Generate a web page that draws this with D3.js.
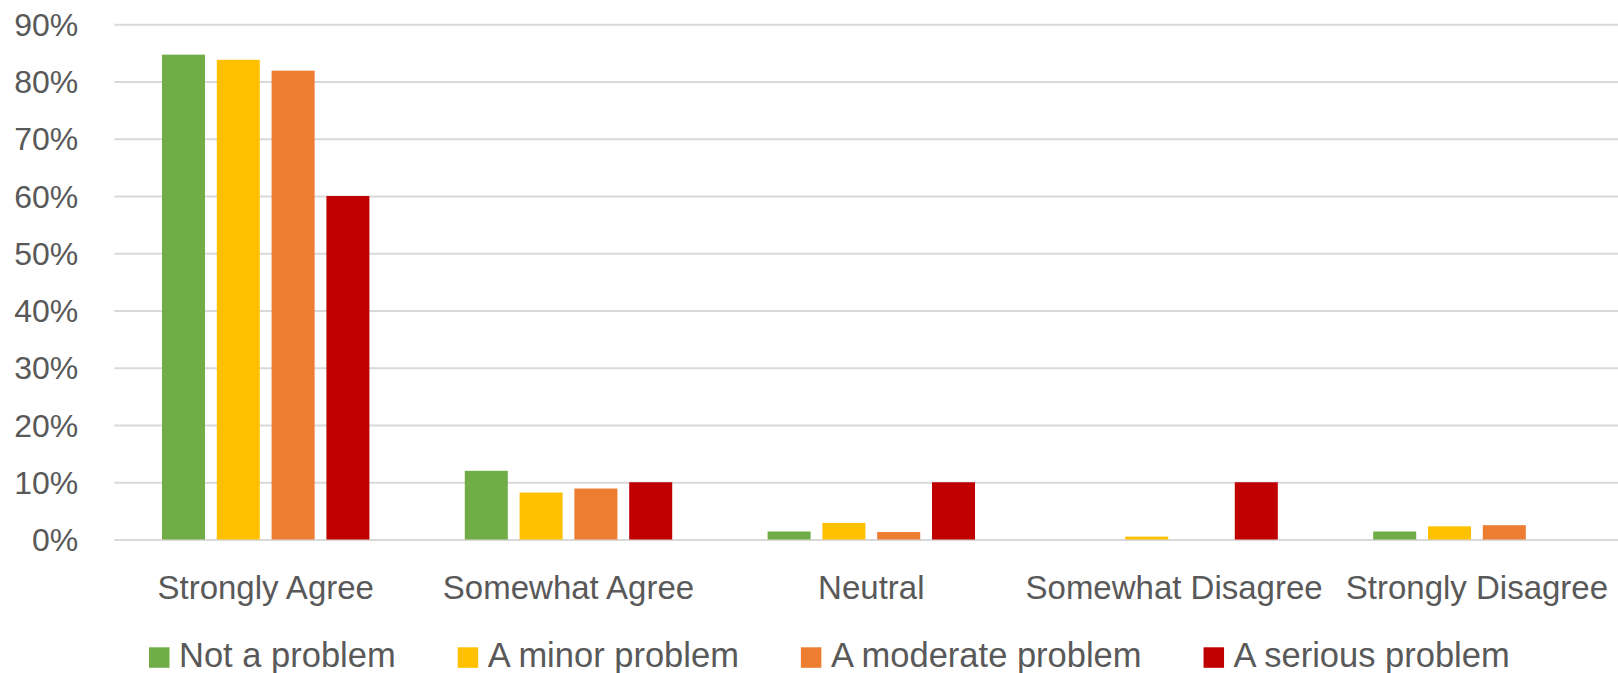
<!DOCTYPE html>
<html>
<head>
<meta charset="utf-8">
<script src="https://cdn.jsdelivr.net/npm/d3@7"></script>
<style>
html,body{margin:0;padding:0;background:#fff;overflow:hidden;}
svg{display:block;}
text{font-family:"Liberation Sans",Arial,sans-serif;fill:#595959;}
</style>
</head>
<body>
<svg id="chart" width="1618" height="673"></svg>
<script>
const categories = ["Strongly Agree","Somewhat Agree","Neutral","Somewhat Disagree","Strongly Disagree"];
const seriesNames = ["Not a problem","A minor problem","A moderate problem","A serious problem"];
const seriesColors = ["#70AD47","#FFC000","#ED7D31","#C00000"];
const notAProblem   = [0.847, 0.120, 0.014, 0.000, 0.014];
const minorProblem  = [0.838, 0.082, 0.029, 0.005, 0.023];
const moderateProblem = [0.819, 0.089, 0.013, 0.000, 0.025];
const seriousProblem  = [0.600, 0.100, 0.100, 0.100, 0.000];
const yTicks = [0,0.1,0.2,0.3,0.4,0.5,0.6,0.7,0.8,0.9];

const seriesValues = [notAProblem, minorProblem, moderateProblem, seriousProblem];

const svg = d3.select("#chart");
const left = 114.3, band = 302.8;
const y0 = 539.5, y90 = 24.3;

const x0 = d3.scaleBand().domain(categories).range([left, left + band*categories.length]).padding(0);
const groupFrac = 0.685;
const x1 = d3.scaleBand().domain(seriesNames)
  .range([0, x0.bandwidth()*groupFrac]).paddingInner(0.215).paddingOuter(0);
const groupOffset = x0.bandwidth()*(1-groupFrac)/2;
const y = d3.scaleLinear().domain([0,0.9]).range([y0, y90]);

// gridlines + y labels
const yAxis = d3.axisLeft(y).tickValues(yTicks)
  .tickSize(-(1618-left)).tickFormat(d3.format(".0%")).tickPadding(36);
const ga = svg.append("g").attr("transform", `translate(${left},0)`).call(yAxis);
ga.select(".domain").remove();
ga.selectAll(".tick line").attr("stroke","#D9D9D9").attr("stroke-width",2);
ga.selectAll(".tick text").attr("font-size",32).attr("fill","#595959")
  .attr("font-family","'Liberation Sans',Arial,sans-serif").attr("dy","0.35em");

// bars
const rows = [];
categories.forEach((c,ci)=>{
  seriesNames.forEach((s,si)=>{
    rows.push({cat:c, ser:s, v:seriesValues[si][ci], color:seriesColors[si]});
  });
});
svg.append("g").selectAll("rect").data(rows).join("rect")
  .attr("x", d=>x0(d.cat)+groupOffset+x1(d.ser))
  .attr("width", x1.bandwidth())
  .attr("y", d=>y(d.v))
  .attr("height", d=>y0 - y(d.v))
  .attr("fill", d=>d.color);

// category axis
const xAxis = d3.axisBottom(x0).tickSize(0).tickPadding(0);
const gx = svg.append("g").attr("transform", `translate(0,${y0})`).call(xAxis);
gx.select(".domain").remove();
gx.selectAll(".tick text").attr("font-size",33).attr("fill","#595959")
  .attr("font-family","'Liberation Sans',Arial,sans-serif")
  .attr("y", 59.5).attr("dy",0);

// legend
const lg = svg.append("g");
let lx = 149;
seriesNames.forEach((s,i)=>{
  lg.append("rect").attr("x",lx).attr("y",647.3).attr("width",20.5).attr("height",20.5).attr("fill",seriesColors[i]);
  const t = lg.append("text").attr("x",lx+30).attr("y",666.7).attr("font-size",34.5).text(s);
  const w = t.node().getComputedTextLength();
  lx = lx + 30 + w + 62;
});
</script>
</body>
</html>
